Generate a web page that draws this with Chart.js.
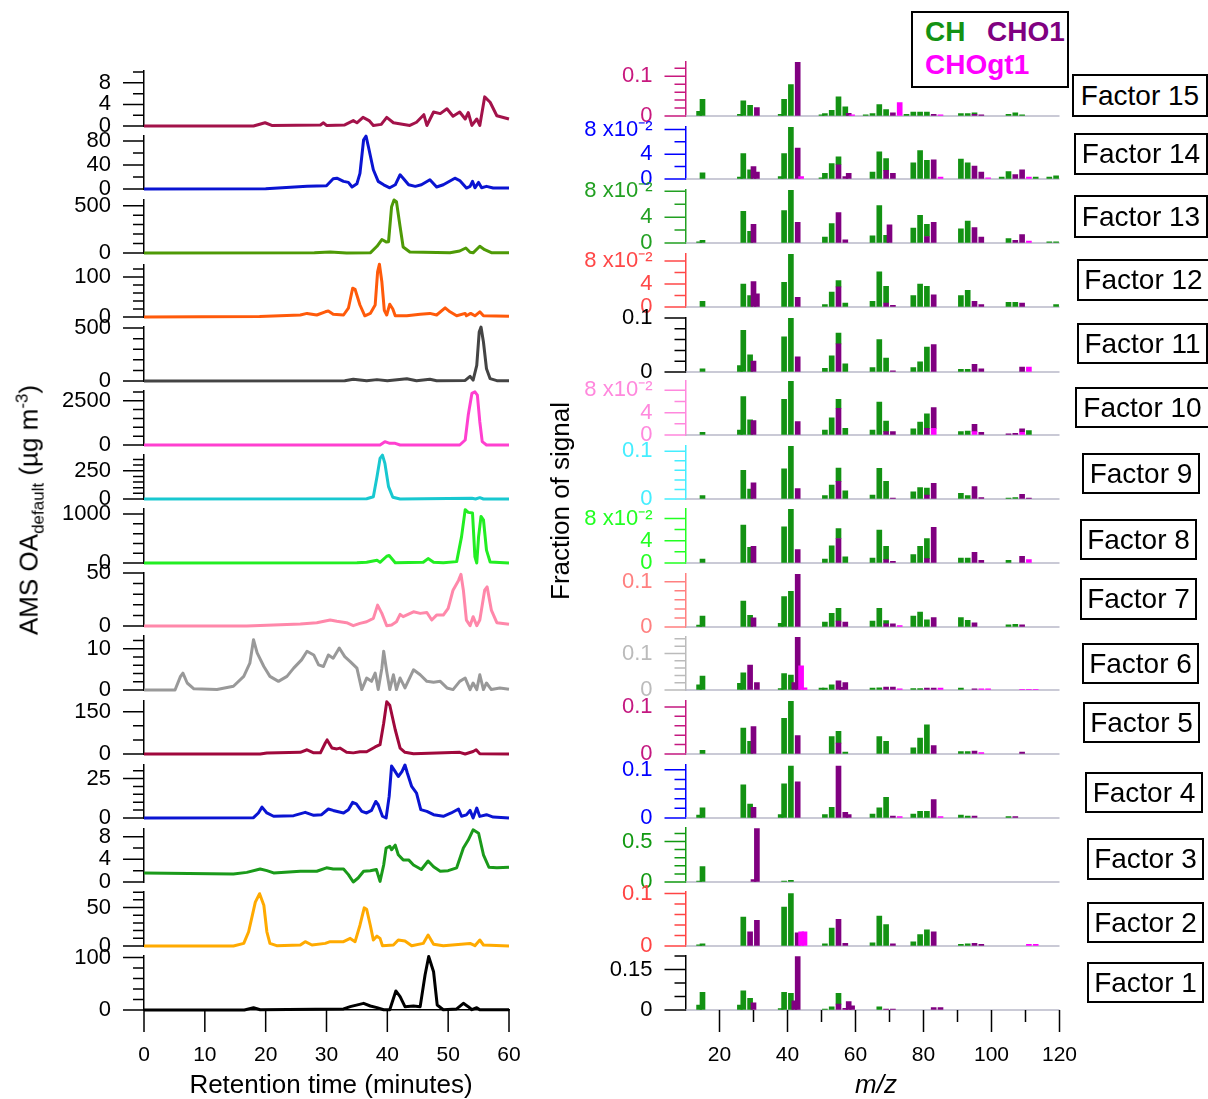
<!DOCTYPE html>
<html>
<head>
<meta charset="utf-8">
<script src="https://cdn.jsdelivr.net/npm/chart.js@4.4.0/dist/chart.umd.min.js"></script>
<style>
  body { margin: 0; background: #fff; font-family: "Liberation Sans", Arial, sans-serif; }
  #page { position: relative; width: 1208px; height: 1099px; overflow: hidden; background: #fff; }
  canvas { position: absolute; }
  .fbox { position: absolute; box-sizing: border-box; border: 2px solid #000; background: #fff;
          display: flex; align-items: center; justify-content: center; font-size: 28px; color: #000; }
  .legend { position: absolute; left: 911px; top: 11px; width: 158px; height: 77px; box-sizing: border-box;
            border: 2px solid #000; background: #fff; }
  .legend span { position: absolute; font-weight: bold; font-size: 28px; line-height: 1; white-space: nowrap; }
  .title { position: absolute; font-size: 26px; line-height: 1; white-space: nowrap; color: #000; }
  .title sub, .title sup { font-size: 17px; }
</style>
</head>
<body>
<div id="page"></div>
<script>
// retention time (min) / AMS OA (ug m-3) for each factor
const rt15 = [0, 18, 19.9, 21, 29, 29.5, 30, 33, 34.4, 35, 36, 37, 37.7, 39, 39.9, 41, 43.7, 44.8, 46, 46.5, 47.6, 48.7, 49.8, 50.8, 51.9, 52.8, 53.3, 53.9, 54.7, 55.2, 56, 56.9, 58, 60];
const oa15 = [0, 0, 0.6, 0.1, 0.2, 0.6, 0.1, 0.2, 1.0, 0.6, 1.6, 1.0, 0.1, 0.3, 1.6, 0.6, 0.1, 0.7, 2.1, 0.1, 2.6, 2.3, 3.2, 1.8, 2.6, 1.3, 2.5, 0.1, 1.3, 0.1, 5.4, 4.4, 1.9, 1.3];
const rt14 = [0, 20, 26.8, 30, 31.1, 31.7, 32.8, 33.6, 34.2, 35, 35.5, 36.1, 36.5, 36.9, 37.7, 38.5, 39.4, 40.4, 41.3, 42.1, 42.6, 43.5, 44.6, 45.6, 47, 48.1, 49.2, 51.1, 51.9, 53, 53.6, 54, 54.4, 55, 55.5, 56.3, 57.4, 60];
const oa14 = [0, 0.5, 4.4, 5.5, 17, 18, 12.7, 11, 3.3, 8.8, 26, 82, 88, 70, 32, 12.7, 7, 2, 7, 23.7, 18, 7, 4.4, 7, 15.5, 3.3, 7, 18, 14, 1.6, 4.4, 12.7, 2, 11, 2, 4.4, 1.6, 1.6];
const rt13 = [0, 28, 30.6, 33.3, 37.2, 38.3, 39.1, 39.8, 40.2, 40.7, 41.1, 41.5, 42.1, 42.6, 43.7, 50.3, 51.9, 52.9, 53.6, 54.1, 55.2, 56, 57.1, 60];
const oa13 = [0, 3, 10, 0, 2, 71, 142, 117, 120, 489, 560, 542, 277, 64, 10, 2, 21, 53, 8, 2, 71, 35, 3, 2];
const rt12 = [0, 19, 25.7, 26.8, 28.4, 29.8, 30.3, 31.1, 32.8, 33.6, 34.3, 34.7, 35.5, 36.3, 37.2, 38, 38.4, 38.7, 39.1, 39.5, 39.9, 40.4, 40.9, 41.3, 43.2, 45.4, 47, 48.1, 49.5, 50.3, 51.4, 52.8, 53, 53.7, 54.4, 55.2, 55.8, 60];
const oa12 = [0, 1, 5, 9, 5, 13, 15, 7, 5, 22, 72, 69, 30, 3, 9, 30, 113, 132, 88, 17, 5, 32, 20, 3, 3, 7, 9, 5, 23, 13, 3, 9, 3, 9, 3, 13, 3, 2];
const rt11 = [0, 33, 34.4, 36.6, 38.3, 40, 43.2, 44.8, 47, 48.1, 52.8, 53.6, 54.1, 54.7, 55.1, 55.4, 55.8, 56.3, 56.9, 58, 60];
const oa11 = [0, 2, 16, 2, 13, 3, 22, 3, 16, 3, 5, 44, 8, 148, 462, 509, 368, 116, 22, 3, 2];
const rt10 = [0, 38.8, 39.6, 40.4, 41.3, 42.1, 51.9, 52.8, 53.3, 53.9, 54.4, 54.8, 55.2, 55.6, 56.3, 60];
const oa10 = [0, 0, 188, 94, 94, 0, 0, 282, 1690, 2913, 3000, 2820, 1316, 188, 0, 0];
const rt9 = [0, 36.6, 37.7, 38.3, 38.8, 39.2, 39.6, 40.2, 40.9, 42.1, 53.9, 54.5, 55.2, 55.8, 60];
const oa9 = [0, 2, 20, 197, 359, 388, 315, 109, 15, 0, 6, 0, 12, 0, 0];
const rt8 = [0, 35, 36.6, 38.3, 38.8, 39.9, 40.3, 41.3, 45.9, 46.7, 47.6, 49.2, 51.4, 52.2, 52.8, 53.3, 54, 54.4, 54.7, 55, 55.4, 55.8, 56.3, 56.9, 60];
const oa8 = [0, 5, 14, 55, 14, 138, 152, 5, 14, 90, 14, 5, 28, 538, 1090, 1034, 1020, 124, 0, 538, 952, 883, 262, 20, 0];
const rt7 = [0, 16.9, 20.2, 25.7, 28.4, 30.6, 31.7, 33.3, 34.4, 35.5, 36.6, 37.7, 38.4, 39.1, 39.9, 40.7, 41.5, 42.1, 42.6, 44.3, 45.4, 46.5, 47.3, 48.1, 49.2, 50, 50.8, 51.7, 52.1, 52.5, 53, 53.6, 54.1, 54.7, 55.2, 56, 56.4, 57.1, 58, 60];
const oa7 = [0, 0, 0.6, 1.9, 3.1, 5.6, 4.4, 3.1, 0.3, 2.5, 4, 7.2, 19.7, 11.9, 0.3, 1, 4, 11, 8.8, 13.4, 11.9, 12.8, 5.6, 10.3, 10.3, 16.6, 33.8, 43, 48.8, 33.8, 5.6, 0.3, 8.8, 0.3, 5.6, 33.8, 36.9, 15, 3.1, 1.6];
const rt6 = [0, 5.1, 6, 6.4, 7.1, 8.2, 12, 14.7, 16.4, 17.4, 18, 18.6, 19.7, 20.7, 22.1, 23.5, 24.6, 25.9, 26.8, 27.9, 28.7, 29.5, 30.3, 31.1, 32.1, 33, 33.9, 35, 35.8, 36.6, 37.4, 38, 38.5, 39.1, 39.4, 39.9, 40.4, 41, 41.5, 42.1, 42.9, 44.3, 45.4, 46.5, 47.6, 48.7, 49.8, 50.8, 51.9, 52.8, 53.6, 54.1, 54.7, 55.2, 55.8, 56.3, 57.1, 58.5, 60];
const oa6 = [0, 0, 3.3, 4.1, 1.7, 0.3, 0.1, 0.9, 3.3, 6.5, 12.2, 9, 5.7, 3.3, 2.1, 3.3, 5.3, 7.3, 9.4, 8.5, 6.1, 5.7, 8.5, 7.7, 10.2, 8.1, 6.9, 5.3, 0.1, 2.9, 2.1, 4.1, 0.1, 5.3, 9.4, 4.5, 0.1, 3.7, 0.1, 2.9, 0.5, 4.9, 3.7, 2.1, 1.9, 2.1, 0.5, 0.1, 2.1, 2.9, 0.1, 1.7, 0.1, 3.7, 0.1, 1.7, 0.1, 0.5, 0.2];
const rt5 = [0, 19.1, 20.2, 25.7, 26.8, 27.9, 29, 29.8, 30.1, 30.9, 31.7, 32.2, 33.3, 34.4, 35.5, 36.6, 38, 38.8, 39.4, 39.9, 40.4, 41.3, 42.1, 42.9, 44.3, 51.9, 52.8, 54.1, 54.6, 55.2, 60];
const oa5 = [0, 0, 3.5, 6, 15, 4, 4, 39, 50, 21, 18, 21, 6, 4, 8, 8, 25, 33, 109, 185, 173, 86, 21, 6, 1, 6, 0, 9, 15, 1, 0];
const rt4 = [0, 18, 18.8, 19.4, 20.2, 21.3, 24.6, 26.5, 27.9, 29.2, 30.3, 31.1, 32.8, 33.6, 34.3, 34.9, 35.8, 36.6, 37.4, 38.1, 38.5, 39.2, 39.8, 40.3, 40.7, 41.3, 41.8, 42.4, 42.9, 43.3, 44, 44.8, 45.5, 46.5, 47.6, 49.2, 50.5, 51.7, 52.2, 53, 53.6, 54.1, 54.7, 55.2, 56.3, 57.4, 60];
const oa4 = [0, 0.2, 3.2, 6.9, 3.2, 1.1, 1.5, 3.6, 1.7, 2.1, 5.7, 4.8, 3.2, 5.3, 9.9, 9, 4.2, 3.2, 4.8, 10.5, 8.4, 1.1, 0, 13.7, 33, 29.4, 26.3, 29.4, 33.6, 28.4, 20, 15.8, 5.3, 4.2, 2.1, 1.1, 3.2, 5.7, 1.1, 2, 4.8, 0, 6.3, 1, 2.1, 0.6, 0];
const rt3 = [0, 14.7, 16.9, 19.1, 20.2, 21.3, 25.7, 28.4, 30, 31.1, 32.8, 33.6, 34.4, 35.2, 36.1, 37.2, 38.2, 38.8, 39.4, 39.8, 40.4, 40.7, 41.3, 41.8, 42.6, 43.5, 44.3, 45.6, 46.7, 47.6, 48.7, 50, 51.4, 52.5, 53.3, 54.1, 55, 55.8, 56.7, 58, 60];
const oa3 = [1.6, 1.4, 1.7, 2.3, 2, 1.6, 1.9, 1.9, 2.5, 2.3, 2.3, 1.3, 0, 0.7, 1.9, 2, 2.2, 0.1, 3, 6, 6.3, 5.7, 6.5, 4.8, 3.9, 3.9, 3, 2.2, 3.7, 2.7, 1.9, 2, 2.5, 6, 7.4, 9.2, 8.6, 4.8, 2.6, 2.5, 2.6];
const rt2 = [0, 14.7, 16.4, 17.2, 18.3, 19, 19.7, 20.2, 20.7, 21.8, 25.7, 26.5, 27.6, 29.8, 30.6, 32.8, 33.9, 34.7, 35.5, 36.2, 36.6, 37.2, 37.7, 38.3, 38.8, 39.2, 41, 41.8, 42.9, 44, 45.9, 46.7, 47.6, 49.2, 53.6, 54.4, 55.2, 55.8, 60];
const oa2 = [0, 0, 3.4, 18.5, 57, 68, 53, 18.5, 3.4, 0.4, 1.3, 5.6, 1.3, 3.4, 5.6, 5.6, 9.9, 5.6, 27, 49.6, 47.8, 27, 7.8, 12.9, 9.9, 0.4, 1.3, 7.8, 6.5, 0.4, 3.4, 14.2, 2.2, 0.4, 3.4, 0.4, 7.8, 1.3, 0];
const rt1 = [0, 16.5, 18, 19.1, 32.8, 33.9, 36.1, 37.2, 38.3, 39.4, 40.4, 41.4, 42.1, 42.9, 44.3, 45.4, 46.2, 46.8, 47.6, 48.2, 49.2, 51.4, 52.5, 53.3, 53.9, 54.7, 55.2, 60];
const oa1 = [0, 0, 4.5, 0.5, 2, 6.4, 12.7, 7.6, 4.5, 0.5, 0.5, 36.3, 25.5, 6.4, 7.6, 6.4, 66.9, 102, 73, 9.6, 0.5, 2, 12.7, 6.4, 0.5, 4.5, 0.5, 0.5];

// mass spectra: [m/z, fraction of signal] for CH, CHO1 and CHOgt1 families
const ch15 = [[14,0.012],[15,0.042],[26,0.004],[27,0.038],[29,0.027],[38,0.004],[39,0.042],[41,0.079],[50,0.003],[51,0.006],[53,0.014],[55,0.048],[57,0.023],[63,0.003],[65,0.006],[67,0.029],[69,0.016],[75,0.004],[77,0.01],[79,0.01],[81,0.01],[91,0.006],[93,0.006],[95,0.004],[105,0.004],[107,0.008],[109,0.003]];
const cho15 = [[31,0.021],[43,0.136],[58,0.007],[71,0.008],[83,0.004],[95,0.004],[97,0.003]];
const gt15 = [[59,0.003],[73,0.034],[85,0.003]];
const ch14 = [[15,0.010],[26,0.003],[27,0.041],[29,0.015],[38,0.004],[39,0.041],[41,0.085],[50,0.002],[51,0.009],[53,0.025],[55,0.013],[65,0.011],[67,0.044],[69,0.019],[77,0.026],[79,0.046],[81,0.030],[91,0.032],[93,0.026],[103,0.003],[105,0.012],[113,0.003],[117,0.003],[119,0.005]];
const cho14 = [[30,0.020],[31,0.011],[43,0.050],[55,0.023],[57,0.004],[58,0.009],[69,0.014],[71,0.009],[83,0.031],[95,0.021],[97,0.011],[107,0.007],[109,0.015]];
const gt14 = [[44,0.004],[85,0.003],[99,0.002],[111,0.003]];
const ch13 = [[14,0.002],[15,0.004],[27,0.049],[29,0.018],[39,0.050],[41,0.082],[51,0.009],[53,0.030],[65,0.011],[67,0.058],[69,0.012],[77,0.023],[79,0.043],[81,0.019],[91,0.022],[93,0.034],[105,0.007],[117,0.002],[119,0.002]];
const cho13 = [[30,0.029],[43,0.032],[55,0.047],[57,0.005],[70,0.028],[81,0.010],[83,0.032],[95,0.024],[97,0.009],[107,0.004],[109,0.013]];
const gt13 = [[111,0.003]];
const ch12 = [[15,0.010],[27,0.040],[29,0.020],[39,0.043],[41,0.094],[51,0.004],[53,0.026],[55,0.011],[57,0.007],[65,0.010],[67,0.061],[69,0.029],[77,0.020],[79,0.040],[81,0.036],[91,0.020],[93,0.029],[105,0.008],[107,0.008],[119,0.004]];
const cho12 = [[30,0.044],[31,0.023],[43,0.017],[55,0.035],[69,0.007],[71,0.003],[83,0.021],[95,0.010],[97,0.004],[109,0.007]];
const gt12 = [];
const ch11 = [[15,0.006],[26,0.012],[27,0.077],[29,0.032],[39,0.065],[41,0.100],[51,0.007],[53,0.030],[55,0.020],[57,0.015],[65,0.008],[67,0.060],[69,0.026],[77,0.008],[79,0.019],[81,0.046],[91,0.005],[93,0.005]];
const cho11 = [[30,0.020],[43,0.028],[55,0.052],[71,0.002],[83,0.051],[95,0.014],[97,0.006],[109,0.009]];
const gt11 = [[111,0.009]];
const ch10 = [[15,0.005],[26,0.009],[27,0.069],[29,0.027],[39,0.064],[41,0.097],[51,0.009],[53,0.031],[55,0.016],[57,0.012],[65,0.009],[67,0.059],[69,0.019],[77,0.011],[79,0.023],[81,0.026],[91,0.006],[93,0.007],[111,0.008]];
const cho10 = [[30,0.026],[43,0.024],[55,0.048],[69,0.006],[71,0.006],[81,0.012],[83,0.037],[95,0.013],[97,0.005],[105,0.002],[107,0.003],[109,0.006]];
const gt10 = [[83,0.012],[95,0.006],[109,0.005]];
const ch9 = [[15,0.007],[27,0.060],[29,0.021],[39,0.063],[41,0.112],[51,0.007],[53,0.029],[55,0.028],[57,0.017],[65,0.008],[67,0.064],[69,0.037],[77,0.015],[79,0.024],[81,0.015],[91,0.012],[93,0.007],[105,0.002],[107,0.003]];
const cho9 = [[30,0.034],[43,0.022],[55,0.037],[71,0.002],[81,0.008],[83,0.033],[95,0.026],[97,0.003],[109,0.010],[111,0.002]];
const gt9 = [];
const ch8 = [[15,0.007],[27,0.068],[29,0.028],[39,0.065],[41,0.097],[51,0.007],[53,0.031],[55,0.018],[57,0.011],[65,0.009],[67,0.059],[69,0.024],[77,0.015],[79,0.030],[81,0.036],[91,0.009],[93,0.009],[105,0.005]];
const cho8 = [[30,0.030],[43,0.024],[55,0.044],[69,0.006],[71,0.003],[81,0.008],[83,0.064],[95,0.019],[97,0.005],[109,0.012]];
const gt8 = [[111,0.006]];
const ch7 = [[14,0.004],[15,0.024],[27,0.057],[29,0.026],[38,0.008],[39,0.067],[41,0.079],[51,0.011],[53,0.030],[55,0.028],[65,0.013],[67,0.041],[69,0.007],[77,0.024],[79,0.033],[81,0.016],[91,0.021],[93,0.015],[105,0.005],[107,0.006]];
const cho7 = [[30,0.020],[43,0.120],[55,0.013],[57,0.011],[69,0.007],[71,0.007],[83,0.021],[95,0.009],[109,0.005]];
const gt7 = [[73,0.003]];
const ch6 = [[14,0.014],[15,0.038],[26,0.018],[27,0.047],[38,0.004],[39,0.045],[41,0.041],[50,0.005],[51,0.005],[53,0.014],[65,0.005],[67,0.006],[77,0.004],[79,0.004],[91,0.005]];
const cho6 = [[29,0.068],[31,0.020],[42,0.020],[43,0.145],[55,0.025],[56,0.007],[57,0.020],[69,0.008],[71,0.008],[81,0.005],[83,0.005],[95,0.003]];
const gt6 = [[44,0.066],[45,0.006],[73,0.003],[85,0.005],[97,0.003],[99,0.003],[109,0.002],[111,0.002],[113,0.002]];
const ch5 = [[15,0.008],[27,0.055],[29,0.027],[39,0.076],[41,0.112],[53,0.037],[55,0.025],[57,0.004],[67,0.037],[69,0.027],[77,0.013],[79,0.034],[81,0.062],[91,0.005],[93,0.005]];
const cho5 = [[30,0.058],[43,0.039],[55,0.023],[83,0.018],[95,0.006],[109,0.004]];
const gt5 = [[97,0.003]];
const ch4 = [[14,0.006],[15,0.021],[27,0.069],[29,0.029],[38,0.007],[39,0.071],[41,0.108],[51,0.007],[53,0.022],[65,0.008],[67,0.021],[69,0.043],[77,0.008],[79,0.014],[81,0.014],[91,0.006],[93,0.004],[105,0.003]];
const cho4 = [[30,0.022],[43,0.075],[55,0.108],[57,0.012],[58,0.007],[71,0.004],[83,0.038],[95,0.004],[107,0.003]];
const gt4 = [[73,0.003],[85,0.003]];
const ch3 = [[14,0.010],[15,0.19],[39,0.010],[41,0.020]];
const cho3 = [[30,0.030],[31,0.66]];
const gt3 = [];
const ch2 = [[14,0.002],[15,0.004],[27,0.055],[39,0.074],[41,0.100],[51,0.004],[53,0.034],[65,0.006],[67,0.057],[69,0.041],[77,0.008],[79,0.022],[81,0.031],[91,0.003],[93,0.004]];
const cho2 = [[29,0.027],[31,0.049],[43,0.025],[55,0.051],[57,0.005],[71,0.004],[83,0.027],[95,0.005],[97,0.003]];
const gt2 = [[44,0.027],[45,0.027],[111,0.003],[113,0.003]];
const ch1 = [[14,0.018],[15,0.065],[26,0.018],[27,0.071],[29,0.043],[38,0.005],[39,0.065],[41,0.062],[51,0.003],[53,0.012],[55,0.040],[67,0.012]];
const cho1 = [[30,0.027],[42,0.034],[43,0.198],[55,0.022],[57,0.006],[58,0.031],[59,0.015],[69,0.003],[71,0.003],[83,0.009],[85,0.009]];
const gt1 = [];

const rtTicks = [0, 10, 20, 30, 40, 50, 60];
const mzTicks = [20, 30, 40, 50, 60, 70, 80, 90, 100, 110, 120];
const mzLabels = [20, 40, 60, 80, 100, 120];

const FONT = '"Liberation Sans", Arial, sans-serif';
Chart.defaults.font.family = FONT;
const COL_CH = '#139213', COL_CHO = '#800080', COL_GT = '#ff00ff';
const SCI = '8 x10\u207B\u00B2';
const page = document.getElementById('page');

// panel layout: pixel rows, axis ranges, colours
const leftPanels = [
  {rt: rt15, oa: oa15, color: '#a3124a', top: 71, zero: 125.5, max: 10.2, step: 2, marks: [[0,'0'],[4,'4'],[8,'8']]},
  {rt: rt14, oa: oa14, color: '#0a14d2', top: 136, zero: 189.3, max: 88.3, step: 20, marks: [[0,'0'],[40,'40'],[80,'80']]},
  {rt: rt13, oa: oa13, color: '#4e9a06', top: 200, zero: 252.7, max: 560, step: 100, marks: [[0,'0'],[500,'500']]},
  {rt: rt12, oa: oa12, color: '#ff5a0a', top: 265, zero: 317, max: 130, step: 20, marks: [[0,'0'],[100,'100']]},
  {rt: rt11, oa: oa11, color: '#444444', top: 326.7, zero: 380.7, max: 510, step: 100, marks: [[0,'0'],[500,'500']]},
  {rt: rt10, oa: oa10, color: '#ff40d0', top: 391, zero: 445, max: 3050, step: 500, marks: [[0,'0'],[2500,'2500']]},
  {rt: rt9, oa: oa9, color: '#18c8d0', top: 455, zero: 499, max: 389, step: 50, marks: [[0,'0'],[250,'250']]},
  {rt: rt8, oa: oa8, color: '#22ee22', top: 509.3, zero: 562.7, max: 1103, step: 200, marks: [[0,'0'],[1000,'1000']]},
  {rt: rt7, oa: oa7, color: '#ff88aa', top: 572.7, zero: 626, max: 50, step: 10, marks: [[0,'0'],[50,'50']]},
  {rt: rt6, oa: oa6, color: '#999999', top: 636, zero: 690.3, max: 13.1, step: 2, marks: [[0,'0'],[10,'10']]},
  {rt: rt5, oa: oa5, color: '#a0083c', top: 701, zero: 754.3, max: 188, step: 50, marks: [[0,'0'],[150,'150']]},
  {rt: rt4, oa: oa4, color: '#0a14d2', top: 765, zero: 818.3, max: 33.6, step: 5, marks: [[0,'0'],[25,'25']]},
  {rt: rt3, oa: oa3, color: '#1a9a1a', top: 829, zero: 882.3, max: 9.35, step: 2, marks: [[0,'0'],[4,'4'],[8,'8']]},
  {rt: rt2, oa: oa2, color: '#ffaa00', top: 891.7, zero: 946, max: 70.2, step: 10, marks: [[0,'0'],[50,'50']]},
  {rt: rt1, oa: oa1, color: '#000000', top: 956, zero: 1010, max: 103, step: 20, marks: [[0,'0'],[100,'100']]}
];
const m01 = [[0,'0'],[0.1,'0.1']], m08 = [[0,'0'],[0.04,'4'],[0.08,SCI]];
const rightPanels = [
  {ch: ch15, cho: cho15, gt: gt15, axis: '#c8187e', top: 61.7, zero: 115.7, max: 0.136, step: 0.02, marks: m01, name: 'Factor 15', box: [1072, 74, 136, 43]},
  {ch: ch14, cho: cho14, gt: gt14, axis: '#0000ff', top: 126.7, zero: 179.3, max: 0.084, step: 0.02, marks: m08, name: 'Factor 14', box: [1074, 133, 134, 42]},
  {ch: ch13, cho: cho13, gt: gt13, axis: '#22a022', top: 190, zero: 243.3, max: 0.082, step: 0.02, marks: m08, name: 'Factor 13', box: [1074, 195, 134, 43]},
  {ch: ch12, cho: cho12, gt: gt12, axis: '#ff4848', top: 254.3, zero: 307.3, max: 0.092, step: 0.02, marks: m08, name: 'Factor 12', box: [1077, 259, 133, 42]},
  {ch: ch11, cho: cho11, gt: gt11, axis: '#000000', top: 317.7, zero: 371.7, max: 0.1, step: 0.02, marks: m01, name: 'Factor 11', box: [1077, 323, 131, 41]},
  {ch: ch10, cho: cho10, gt: gt10, axis: '#ff88dd', top: 381, zero: 435, max: 0.0968, step: 0.02, marks: m08, name: 'Factor 10', box: [1075, 387, 135, 41]},
  {ch: ch9, cho: cho9, gt: gt9, axis: '#44eeff', top: 445.7, zero: 499, max: 0.111, step: 0.02, marks: m01, name: 'Factor 9', box: [1082, 453, 118, 41]},
  {ch: ch8, cho: cho8, gt: gt8, axis: '#22ff22', top: 509.3, zero: 562.7, max: 0.097, step: 0.02, marks: m08, name: 'Factor 8', box: [1080, 519, 117, 41]},
  {ch: ch7, cho: cho7, gt: gt7, axis: '#ff8080', top: 574, zero: 626.7, max: 0.117, step: 0.02, marks: m01, name: 'Factor 7', box: [1080, 578, 117, 42]},
  {ch: ch6, cho: cho6, gt: gt6, axis: '#bbbbbb', top: 636.7, zero: 690, max: 0.145, step: 0.02, marks: m01, name: 'Factor 6', box: [1082, 643, 117, 41]},
  {ch: ch5, cho: cho5, gt: gt5, axis: '#c41880', top: 700.7, zero: 754.3, max: 0.1126, step: 0.02, marks: m01, name: 'Factor 5', box: [1083, 702, 117, 41]},
  {ch: ch4, cho: cho4, gt: gt4, axis: '#0000ff', top: 765, zero: 818.3, max: 0.110, step: 0.02, marks: m01, name: 'Factor 4', box: [1085, 772, 118, 41]},
  {ch: ch3, cho: cho3, gt: gt3, axis: '#119911', top: 828.3, zero: 881.7, max: 0.667, step: 0.1, marks: [[0,'0'],[0.5,'0.5']], name: 'Factor 3', box: [1087, 838, 117, 42]},
  {ch: ch2, cho: cho2, gt: gt2, axis: '#ff4444', top: 891.7, zero: 945.7, max: 0.103, step: 0.02, marks: m01, name: 'Factor 2', box: [1087, 902, 117, 41]},
  {ch: ch1, cho: cho1, gt: gt1, axis: '#000000', top: 956, zero: 1010, max: 0.2, step: 0.05, marks: [[0,'0'],[0.15,'0.15']], name: 'Factor 1', box: [1087, 962, 117, 41]}
];

function tickList(step, max) {
  const out = [];
  for (let k = 0; k * step <= max + 1e-9; k++) out.push(+(k * step).toFixed(6));
  return out;
}
function markLabel(marks, v) {
  const m = marks.find(mk => Math.abs(mk[0] - v) < 1e-9);
  return m ? m[1] : '';
}
// stop Chart.js from adding label overhang on top of the layout padding
function noOverhang(s) {
  s.paddingTop = 0; s.paddingBottom = 0; s.paddingLeft = 0; s.paddingRight = 0;
}

// Igor-style ticks: long for labelled ticks, short for the rest
const igorTicks = {
  id: 'igorTicks',
  beforeDatasetsDraw(chart, args, o) {
    if (!o.baseline) return;
    const {ctx, chartArea: a, scales} = chart;
    const py = scales.y.getPixelForValue(0);
    ctx.save();
    ctx.strokeStyle = o.baseline;
    ctx.lineWidth = 1.5;
    ctx.beginPath();
    ctx.moveTo(a.left, py);
    ctx.lineTo(a.right, py);
    ctx.stroke();
    ctx.restore();
  },
  afterDraw(chart, args, o) {
    const {ctx, chartArea: a, scales} = chart;
    ctx.save();
    ctx.lineWidth = 1.5;
    ctx.strokeStyle = o.color;
    ctx.beginPath();
    scales.y.ticks.forEach(t => {
      const py = scales.y.getPixelForValue(t.value);
      const len = t.label ? 21 : 11;
      ctx.moveTo(a.left - len, py);
      ctx.lineTo(a.left, py);
    });
    if (o.xTicks) {
      scales.x.ticks.forEach(t => {
        const px = scales.x.getPixelForValue(t.value);
        const len = t.label ? 22 : 12;
        ctx.moveTo(px, a.bottom);
        ctx.lineTo(px, a.bottom + len);
      });
    }
    ctx.stroke();
    ctx.restore();
  }
};

function addCanvas(x, y, w, h) {
  const cv = document.createElement('canvas');
  cv.width = w; cv.height = h;
  cv.style.left = x + 'px'; cv.style.top = y + 'px';
  cv.style.width = w + 'px'; cv.style.height = h + 'px';
  page.appendChild(cv);
  return cv;
}

function yScale(p, width, color) {
  const vals = tickList(p.step, p.max);
  return {
    min: 0, max: p.max,
    afterFit: s => { s.width = width; noOverhang(s); },
    afterBuildTicks: s => { s.ticks = vals.map(v => ({value: v})); },
    grid: {drawOnChartArea: false, drawTicks: true, tickLength: 21, tickColor: 'rgba(0,0,0,0)'},
    border: {display: true, color: color, width: 1.5},
    ticks: {autoSkip: false, padding: 12, color: color, font: {size: 22}, callback: v => markLabel(p.marks, v)}
  };
}

function timeChart(p, bottom) {
  const padT = 15, padB = bottom ? 0 : 15, axisH = bottom ? 80 : 0;
  const top = Math.round(p.top), h = Math.round(p.zero) - top + padT + padB + axisH;
  const cv = addCanvas(0, top - padT, 530, h);
  new Chart(cv, {
    type: 'line',
    data: {datasets: [{
      data: p.rt.map((t, i) => ({x: t, y: p.oa[i]})),
      borderColor: p.color, borderWidth: 3, pointRadius: 0, tension: 0, clip: false,
      borderJoinStyle: 'round'
    }]},
    options: {
      responsive: false, animation: false, events: [], devicePixelRatio: 1,
      layout: {padding: {top: padT, bottom: padB, left: 0, right: 21}},
      plugins: {legend: {display: false}, tooltip: {enabled: false},
                igorTicks: {color: '#000', xTicks: bottom}},
      scales: {
        x: {type: 'linear', min: 0, max: 60, display: bottom,
            afterFit: s => { s.height = axisH; noOverhang(s); },
            afterBuildTicks: s => { s.ticks = rtTicks.map(v => ({value: v})); },
            grid: {drawOnChartArea: false, drawTicks: true, tickLength: 22, tickColor: 'rgba(0,0,0,0)'},
            border: {display: true, color: '#000', width: 1.5},
            ticks: {autoSkip: false, maxRotation: 0, padding: 11, color: '#000', font: {size: 21}}},
        y: yScale(p, 144, '#000')
      }
    },
    plugins: [igorTicks]
  });
}

function specChart(p, bottom) {
  const padT = 15, padB = bottom ? 0 : 15, axisH = bottom ? 80 : 0;
  const left = 560, w = 520;
  const top = Math.round(p.top), h = Math.round(p.zero) - top + padT + padB + axisH;
  const cv = addCanvas(left, top - padT, w, h);
  const xy = arr => arr.map(d => ({x: d[0], y: d[1]}));
  new Chart(cv, {
    type: 'bar',
    data: {datasets: [
      {label: 'CHOgt1', data: xy(p.gt), backgroundColor: COL_GT, barThickness: 5},
      {label: 'CHO1', data: xy(p.cho), backgroundColor: COL_CHO, barThickness: 5},
      {label: 'CH', data: xy(p.ch), backgroundColor: COL_CH, barThickness: 5}
    ]},
    options: {
      responsive: false, animation: false, events: [], devicePixelRatio: 1,
      layout: {padding: {top: padT, bottom: padB, left: 0, right: 20.5}},
      plugins: {legend: {display: false}, tooltip: {enabled: false},
                igorTicks: {color: p.axis, xTicks: bottom, baseline: '#b8b8c8'}},
      scales: {
        x: {type: 'linear', min: 10, max: 120, offset: false, stacked: true, display: bottom,
            afterFit: s => { s.height = axisH; noOverhang(s); },
            afterBuildTicks: s => { s.ticks = mzTicks.map(v => ({value: v})); },
            grid: {drawOnChartArea: false, drawTicks: true, tickLength: 22, tickColor: 'rgba(0,0,0,0)', offset: false},
            border: {display: false},
            ticks: {autoSkip: false, maxRotation: 0, padding: 11, color: '#000', font: {size: 21},
                    callback: v => mzLabels.includes(v) ? String(v) : ''}},
        y: Object.assign(yScale(p, 125.5, p.axis), {stacked: true})
      }
    },
    plugins: [igorTicks]
  });
}

leftPanels.forEach((p, i) => timeChart(p, i === leftPanels.length - 1));
rightPanels.forEach((p, i) => specChart(p, i === rightPanels.length - 1));

// factor name boxes
rightPanels.forEach(p => {
  const d = document.createElement('div');
  d.className = 'fbox';
  d.style.left = p.box[0] + 'px'; d.style.top = p.box[1] + 'px';
  d.style.width = p.box[2] + 'px'; d.style.height = p.box[3] + 'px';
  d.textContent = p.name;
  page.appendChild(d);
});

// legend
const lg = document.createElement('div');
lg.className = 'legend';
lg.innerHTML = '<span style="left:12px;top:5px;color:' + COL_CH + '">CH</span>' +
  '<span style="left:74px;top:5px;color:' + COL_CHO + '">CHO1</span>' +
  '<span style="left:12px;top:38px;color:' + COL_GT + '">CHOgt1</span>';
page.appendChild(lg);

// axis titles
function title(html, x, y, rot, extra) {
  const d = document.createElement('div');
  d.className = 'title';
  d.innerHTML = html;
  d.style.left = x + 'px'; d.style.top = y + 'px';
  d.style.transform = 'translate(-50%,-50%)' + (rot ? ' rotate(-90deg)' : '');
  if (extra) d.style.cssText += extra;
  page.appendChild(d);
}
title('Retention time (minutes)', 331, 1084, false);
title('m/z', 876, 1084, false, 'font-style:italic;');
title('AMS OA<sub>default</sub> (\u00B5g m<sup>-3</sup>)', 30, 510, true);
title('Fraction of signal', 560, 501, true);
</script>
</body>
</html>
